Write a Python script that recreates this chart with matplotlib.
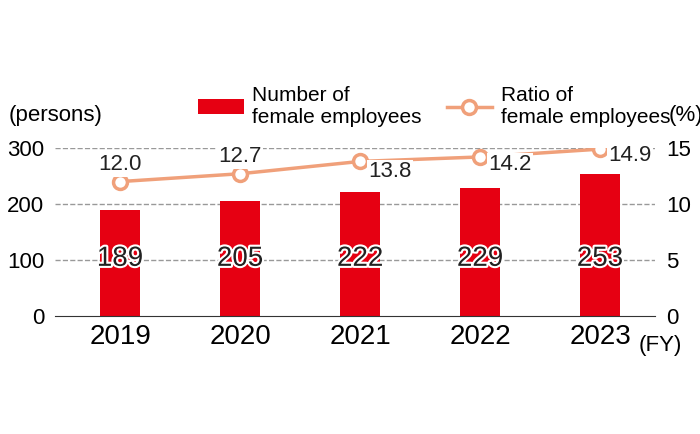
import matplotlib.pyplot as plt
import matplotlib.patheffects as pe

plt.rcParams['font.family'] = ['Liberation Sans Narrow', 'Liberation Sans', 'DejaVu Sans']

years = ["2019", "2020", "2021", "2022", "2023"]
counts = [189, 205, 222, 229, 253]
ratios = [12.0, 12.7, 13.8, 14.2, 14.9]

red = '#e60012'
orange = '#f0a07a'

fig = plt.figure(figsize=(7, 4.34), dpi=100)
ax = fig.add_axes([0.079, 0.272, 0.857, 0.387])
x = range(len(years))

ax.bar(x, counts, width=0.34, color=red, zorder=2, label='Number of\nfemale employees')
ax.set_xlim(-0.54, 4.46)
ax.set_ylim(0, 300)
ax.set_yticks([0, 100, 200, 300])
for v in [100, 200, 300]:
    ax.axhline(v, color='#999999', ls='--', lw=1, zorder=1)
for s in ['top', 'right', 'left']:
    ax.spines[s].set_visible(False)
ax.spines['bottom'].set_color('#333333')
ax.tick_params(axis='y', length=0, labelsize=16, pad=8)
ax.tick_params(axis='x', length=0, labelsize=20, pad=6)
ax.set_xticks(list(x))
ax.set_xticklabels(years)

for i, c in enumerate(counts):
    ax.text(i, 102, str(c), ha='center', va='center', fontsize=20, color='#222222',
            path_effects=[pe.withStroke(linewidth=3, foreground='white')], zorder=4)

ax2 = ax.twinx()
ax2.set_ylim(0, 15)
ax2.set_yticks([0, 5, 10, 15])
for s in ['top', 'right', 'left', 'bottom']:
    ax2.spines[s].set_visible(False)
ax2.tick_params(axis='y', length=0, labelsize=16, pad=8)
ax2.plot(list(x), ratios, color=orange, lw=2.5, marker='o', ms=10, mfc='white',
         mec=orange, mew=2.5, zorder=3, label='Ratio of\nfemale employees')

offsets = [(0, 1.5), (0, 1.5), (0.25, -0.9), (0.25, -0.7), (0.25, -0.6)]
for i, (r, (dx, dy)) in enumerate(zip(ratios, offsets)):
    ax2.text(i + dx, r + dy, f"{r:.1f}", ha='center', va='center', fontsize=16, color='#222222',
             bbox=dict(fc='white', ec='none', pad=1))

fig.text(0.012, 0.735, '(persons)', fontsize=16, va='center')
fig.text(0.955, 0.735, '(%)', fontsize=16, va='center')
fig.text(0.912, 0.205, '(FY)', fontsize=16, va='center')

h1, l1 = ax.get_legend_handles_labels()
h2, l2 = ax2.get_legend_handles_labels()
fig.legend(h1 + h2, l1 + l2, loc='center', bbox_to_anchor=(0.62, 0.755), ncol=2,
           frameon=False, fontsize=15, handlelength=2.2, columnspacing=1.2,
           labelspacing=0.1, handletextpad=0.4)

fig.savefig('out.png', dpi=100)
